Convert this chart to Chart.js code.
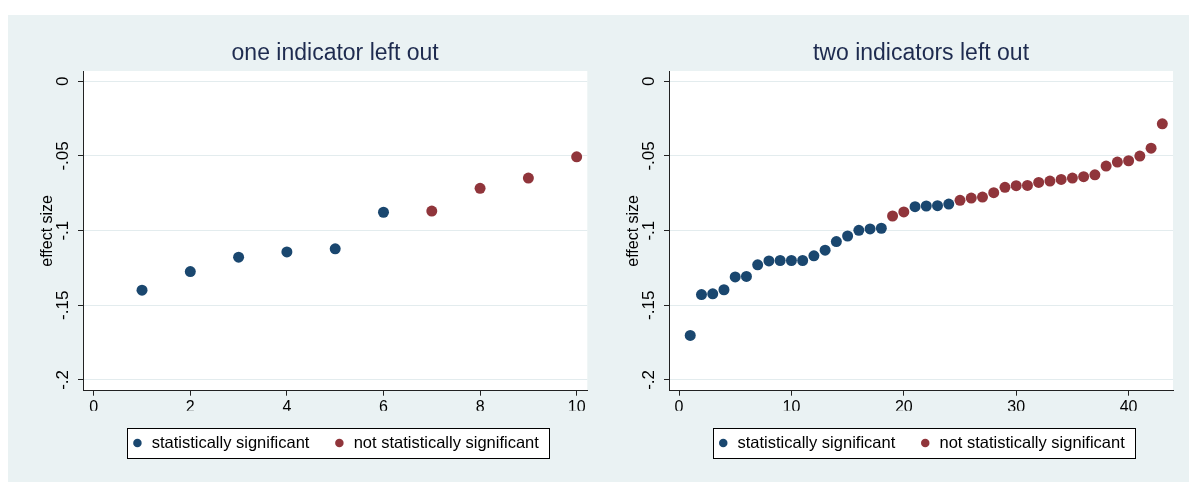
<!DOCTYPE html>
<html>
<head>
<meta charset="utf-8">
<script src="https://cdn.jsdelivr.net/npm/chart.js@4/dist/chart.umd.min.js"></script>
<style>
  html, body { margin: 0; padding: 0; background: #ffffff; }
  #panel { position: absolute; left: 8px; top: 15px; width: 1181px; height: 467px; background: #eaf2f3; }
  canvas { position: absolute; top: 15px; }
  #oneOut { left: 8px; }
  #twoOut { left: 594px; }
</style>
</head>
<body>
<div id="panel"></div>
<canvas id="oneOut" width="585" height="466"></canvas>
<canvas id="twoOut" width="595" height="466"></canvas>
<script>
// Sorted effect sizes from the leave-out runs; flag 1 = statistically significant.
const oneOutEffect = [-0.1399, -0.1274, -0.1178, -0.1143, -0.1122, -0.0877, -0.0869, -0.0717, -0.0648, -0.0506];
const oneOutSignificant = [1, 1, 1, 1, 1, 1, 0, 0, 0, 0];

const twoOutEffect = [
  -0.1702, -0.1428, -0.1423, -0.1396, -0.1310, -0.1307, -0.1229, -0.1203, -0.1200, -0.1200,
  -0.1200, -0.1169, -0.1131, -0.1073, -0.1036, -0.0998, -0.0989, -0.0984, -0.0902, -0.0875,
  -0.0840, -0.0835, -0.0833, -0.0822, -0.0797, -0.0782, -0.0775, -0.0746, -0.0710, -0.0699,
  -0.0697, -0.0677, -0.0668, -0.0657, -0.0648, -0.0639, -0.0626, -0.0568, -0.0541, -0.0532,
  -0.0501, -0.0448, -0.0285
];
const twoOutSignificant = [
  1, 1, 1, 1, 1, 1, 1, 1, 1, 1,
  1, 1, 1, 1, 1, 1, 1, 1, 0, 0,
  1, 1, 1, 1, 0, 0, 0, 0, 0, 0,
  0, 0, 0, 0, 0, 0, 0, 0, 0, 0,
  0, 0, 0
];

const panelTitles = ['one indicator left out', 'two indicators left out'];
const seriesLabels = ['statistically significant', 'not statistically significant'];
const yAxisTitle = 'effect size';
const yTickValues = [-0.2, -0.15, -0.1, -0.05, 0];
const yTickLabels = ['-.2', '-.15', '-.1', '-.05', '0'];
const oneOutXTicks = [0, 2, 4, 6, 8, 10];
const twoOutXTicks = [0, 10, 20, 30, 40];

const FONT = "'Liberation Sans', Arial, Helvetica, sans-serif";
const NAVY = '#1a476f';
const MAROON = '#90353b';
const TITLE_COLOR = '#1e2b4f';
const AXIS_COLOR = '#222222';
const GRID_COLOR = '#e3ecee';
const PANEL_BG = '#eaf2f3';

// Splits a ranked series into significant / not significant point lists.
function splitSeries(effect, flags) {
  const sig = [], notSig = [];
  effect.forEach((v, i) => (flags[i] ? sig : notSig).push({ x: i + 1, y: v }));
  return [sig, notSig];
}

// Paints the panel colour, the white plot region and the framed legend box.
const panelBackground = {
  id: 'panelBackground',
  beforeDraw(chart) {
    const { ctx, chartArea: a, legend } = chart;
    ctx.save();
    ctx.fillStyle = PANEL_BG;
    ctx.fillRect(0, 0, chart.width, chart.height);
    ctx.fillStyle = '#ffffff';
    ctx.fillRect(a.left, a.top, a.right - a.left, a.bottom - a.top);
    const boxes = legend && legend.legendHitBoxes;
    if (boxes && boxes.length) {
      const first = boxes[0], last = boxes[boxes.length - 1];
      const cy = first.top + first.height / 2;
      const l = Math.round(first.left - 4) + 0.5;
      const r = Math.round(last.left + last.width + 10) + 0.5;
      const t = Math.round(cy - 15) + 0.5;
      const b = Math.round(cy + 15) + 0.5;
      ctx.fillRect(l, t, r - l, b - t);
      ctx.strokeStyle = '#000000';
      ctx.lineWidth = 1;
      ctx.strokeRect(l, t, r - l, b - t);
    }
    ctx.restore();
  }
};

function makeChart(id, effect, flags, title, xMin, xMax, xTicks, padRight) {
  const [sig, notSig] = splitSeries(effect, flags);
  return new Chart(document.getElementById(id), {
    type: 'scatter',
    data: {
      datasets: [
        { label: seriesLabels[0], data: sig, backgroundColor: NAVY, borderWidth: 0,
          pointRadius: 5.5, pointHoverRadius: 5.5 },
        { label: seriesLabels[1], data: notSig, backgroundColor: MAROON, borderWidth: 0,
          pointRadius: 5.5, pointHoverRadius: 5.5 }
      ]
    },
    options: {
      responsive: false,
      animation: false,
      devicePixelRatio: 1,
      layout: { padding: { left: 0, right: padRight, top: 0, bottom: 19.75 } },
      plugins: {
        title: {
          display: true, text: title, fullSize: false, color: TITLE_COLOR,
          font: { family: FONT, size: 23, weight: 'normal' },
          padding: { top: 24.9, bottom: 3.5 }
        },
        legend: {
          position: 'bottom', fullSize: false,
          labels: {
            usePointStyle: true, pointStyle: 'circle', boxWidth: 12, boxHeight: 6,
            padding: 24, color: '#000000', font: { family: FONT, size: 16.5 }
          }
        },
        tooltip: { enabled: false }
      },
      scales: {
        x: {
          type: 'linear', min: xMin, max: xMax,
          afterBuildTicks: s => { s.ticks = xTicks.map(v => ({ value: v })); },
          afterFit: s => { s.height = 20.05; },
          ticks: { font: { family: FONT, size: 16 }, color: '#000000', padding: 2, maxRotation: 0,
                   callback: v => String(v) },
          grid: { drawOnChartArea: false, tickLength: 5, tickColor: AXIS_COLOR },
          border: { color: AXIS_COLOR, width: 1 }
        },
        y: {
          type: 'linear', min: -0.2072, max: 0.0069,
          afterBuildTicks: s => { s.ticks = yTickValues.map(v => ({ value: v })); },
          afterFit: s => { s.width = 75; },
          ticks: {
            font: { family: FONT, size: 17 }, color: '#000000', padding: 0,
            minRotation: 90, maxRotation: 90, crossAlign: 'center',
            callback: v => yTickLabels[yTickValues.indexOf(v)]
          },
          grid: { color: GRID_COLOR, lineWidth: 1, tickLength: 5, tickColor: AXIS_COLOR },
          border: { color: AXIS_COLOR, width: 1 },
          title: {
            display: true, text: yAxisTitle, color: '#000000',
            font: { family: FONT, size: 16 }, padding: { top: 30, bottom: 0 }
          }
        }
      }
    },
    plugins: [panelBackground]
  });
}

makeChart('oneOut', oneOutEffect, oneOutSignificant, panelTitles[0], -0.222, 10.22, oneOutXTicks, 5.7);
makeChart('twoOut', twoOutEffect, twoOutSignificant, panelTitles[1], -0.89, 43.95, twoOutXTicks, 16);
</script>
</body>
</html>
